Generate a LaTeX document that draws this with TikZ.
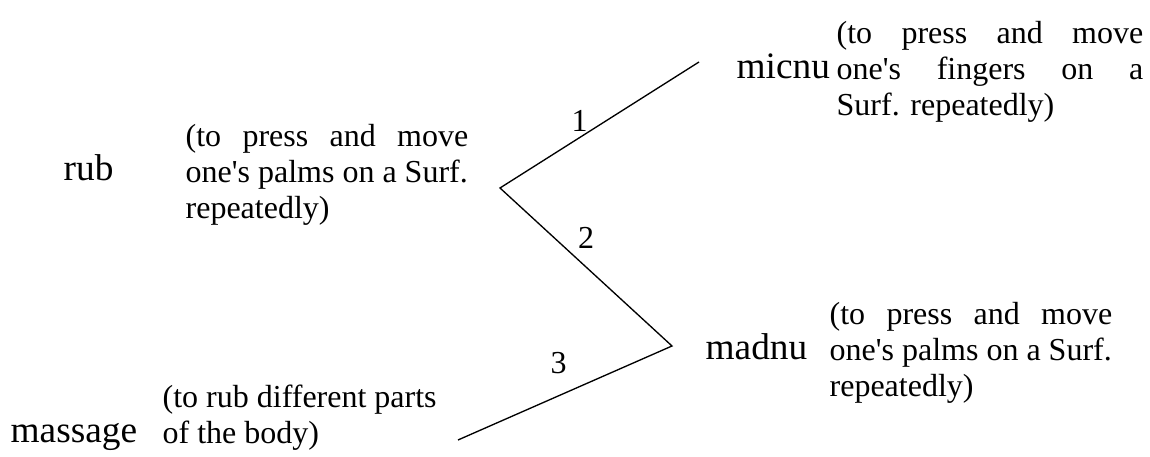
\documentclass[tikz,border=0pt]{standalone}
\usepackage{fontspec}
\setmainfont{Liberation Serif}
\usetikzlibrary{positioning}
\newcommand{\spreadline}[2][106pt]{\makebox[#1][s]{#2}}
\newcommand{\apos}{\textquotesingle}

\begin{document}
\begin{tikzpicture}[
  x=0.375pt, y=-0.375pt,
  line width=0.5pt,
  word/.style={inner sep=0pt, anchor=base west, font=\fontsize{14}{17}\selectfont},
  gloss/.style={inner sep=0pt, anchor=west, align=left, font=\fontsize{12}{13.5}\selectfont},
  num/.style={inner sep=2pt, font=\fontsize{12}{13.5}\selectfont}
]
  \useasboundingbox (0,0) rectangle (1150,457);

  % words and their glosses
  \node[word] (rub) at (63,181) {rub};
  \node[gloss] (rubgloss) at (185,174.5) {\spreadline{(to press and move}\\one\apos s palms on a Surf.\\repeatedly)};

  \node[word] (micnu) at (736,79) {micnu};
  \node[gloss] (micnugloss) at (836,71.5) {\spreadline[115pt]{(to press and move}\\\spreadline[115pt]{one\apos s fingers on a}\\Surf. repeatedly)};

  \node[word] (madnu) at (705,360) {madnu};
  \node[gloss] (madnugloss) at (829,352.5) {\spreadline{(to press and move}\\one\apos s palms on a Surf.\\repeatedly)};

  \node[word] (massage) at (10,443) {massage};
  \node[gloss] (massagegloss) at (162,417.5) {(to rub different parts\\of the body)};

  % zigzag of senses
  \coordinate (top) at (699,62);
  \coordinate (apex) at (500,188);
  \coordinate (low) at (672,346);
  \coordinate (tail) at (458,440);

  \draw (top) -- node[num, pos=0.6, above] {1} (apex)
        -- node[num, pos=0.42, above right] {2} (low)
        -- node[num, pos=0.53, above=6pt] {3} (tail);
\end{tikzpicture}
\end{document}
